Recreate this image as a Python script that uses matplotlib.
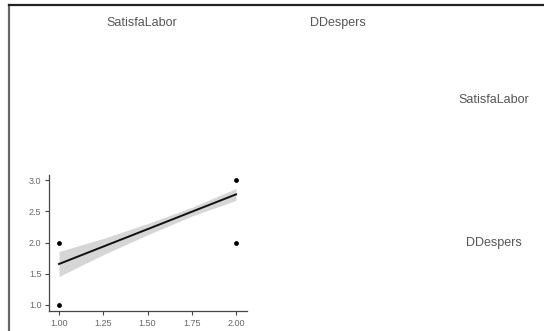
import numpy as np
import matplotlib
matplotlib.use("Agg")
import matplotlib.pyplot as plt
from matplotlib.lines import Line2D

# variables of the pair plot
var_names = ["SatisfaLabor", "DDespers"]

# scatter points (x = SatisfaLabor, y = DDespers)
pts_x = [1.0, 1.0, 2.0, 2.0]
pts_y = [1.0, 2.0, 2.0, 3.0]

# fitted line and confidence band
fit_x = [1.0, 1.25, 1.5, 1.75, 2.0]
fit_y = [1.656, 1.935, 2.213, 2.492, 2.77]
band_lo = [1.456, 1.805, 2.123, 2.422, 2.675]
band_hi = [1.856, 2.065, 2.303, 2.562, 2.865]

x_ticks = [1.00, 1.25, 1.50, 1.75, 2.00]
y_ticks = [1.0, 1.5, 2.0, 2.5, 3.0]

plt.rcParams['font.family'] = ['Liberation Sans', 'DejaVu Sans']

W, H = 544, 331
fig = plt.figure(figsize=(W / 100, H / 100), dpi=100)

# frame of the screenshot (left and top edges)
fig.add_artist(Line2D([9 / W, 9 / W], [0, 1 - 5 / H], transform=fig.transFigure,
                      color="#666666", lw=1.6))
fig.add_artist(Line2D([9 / W, 1], [1 - 5 / H, 1 - 5 / H], transform=fig.transFigure,
                      color="#222222", lw=1.6))

# the one panel with content
ax = fig.add_axes([49 / W, 20 / H, 198 / W, 136 / H])
ax.fill_between(fit_x, band_lo, band_hi, color="#d6d6d6", lw=0)
ax.plot(fit_x, fit_y, color="#111111", lw=1.4)
ax.scatter(pts_x, pts_y, s=6, color="black", zorder=3)
ax.set_xlim(0.9435, 2.062)
ax.set_ylim(0.904, 3.08)
ax.set_xticks(x_ticks)
ax.set_xticklabels([f"{v:.2f}" for v in x_ticks])
ax.set_yticks(y_ticks)
ax.set_yticklabels([f"{v:.1f}" for v in y_ticks])
for s in ["top", "right"]:
    ax.spines[s].set_visible(False)
for s in ["left", "bottom"]:
    ax.spines[s].set_color("#444444")
    ax.spines[s].set_linewidth(0.9)
ax.tick_params(length=3, width=0.8, color="#444444", labelsize=6.5,
               labelcolor="#666666", pad=2.5)

# variable labels
lab = dict(fontsize=9, color="#555555", ha="center", va="center")
fig.text(142 / W, 1 - 23 / H, var_names[0], **lab)
fig.text(338 / W, 1 - 23 / H, var_names[1], **lab)
fig.text(494 / W, 1 - 100 / H, var_names[0], **lab)
fig.text(494 / W, 1 - 243 / H, var_names[1], **lab)

fig.savefig("out.png", dpi=100)
